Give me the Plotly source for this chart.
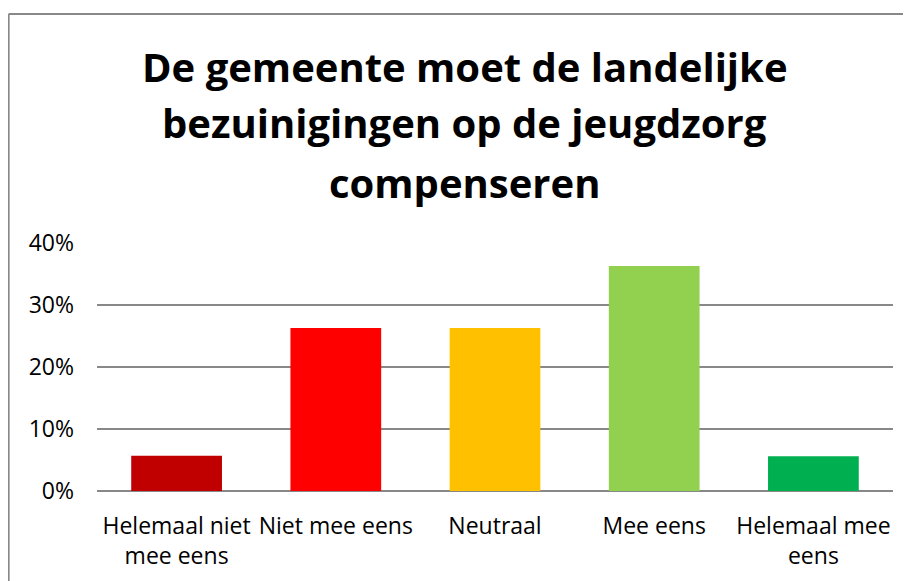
import plotly.graph_objects as go

categories = ["Helemaal niet<br>mee eens", "Niet mee eens", "Neutraal", "Mee eens", "Helemaal mee<br>eens"]
shares = [0.057, 0.263, 0.263, 0.363, 0.056]
bar_colors = ["#C00000", "#FF0000", "#FFC000", "#92D050", "#00B050"]
y_ticks = [0, 0.1, 0.2, 0.3, 0.4]
title_lines = ["De gemeente moet de landelijke",
               "bezuinigingen op de jeugdzorg",
               "compenseren"]

FONT = "'Open Sans', Lato, sans-serif"
# the page body adds an 8px margin; the figure starts 8px in from the window corner
W, H = 903, 573

fig = go.Figure()
fig.add_trace(go.Bar(x=categories, y=shares,
                     marker=dict(color=bar_colors, line=dict(width=0)),
                     hoverinfo="x+y"))

title_y = [1.712, 1.486, 1.242]
annotations = [dict(text="<b>" + line + "</b>",
                    xref="paper", yref="paper", x=0.462, y=ty,
                    xanchor="center", yanchor="middle", showarrow=False,
                    font=dict(family=FONT, size=40, color="#000000"))
               for line, ty in zip(title_lines, title_y)]

# chart border: only left and top edges are inside the window
border = dict(color="#888888", width=2)
shapes = [dict(type="line", xref="paper", yref="paper",
               x0=-0.111, y0=-1, x1=-0.111, y1=1.923, line=border),
          dict(type="line", xref="paper", yref="paper",
               x0=-0.111, y0=1.923, x1=1.3, y1=1.923, line=border)]

fig.update_layout(
    width=W, height=H,
    margin=dict(l=89, r=18, t=235, b=90),
    paper_bgcolor="white",
    plot_bgcolor="white",
    font=dict(family=FONT, color="#000000", size=23),
    bargap=0.43,
    showlegend=False,
    annotations=annotations,
    shapes=shapes,
)

# Set x-axis
fig.update_xaxes(showgrid=False, zeroline=False, showline=False,
                 ticks="", ticklabelstandoff=19, automargin=False,
                 tickfont=dict(size=23))

# Set y-axis
fig.update_yaxes(range=[0, 0.4], tickvals=y_ticks, tickformat=".0%",
                 showgrid=True, gridcolor="#888888", gridwidth=2,
                 zeroline=True, zerolinecolor="#888888", zerolinewidth=2,
                 showline=False, ticks="", ticklabelstandoff=22, automargin=False,
                 tickfont=dict(size=23))

fig.write_html("out.html")
